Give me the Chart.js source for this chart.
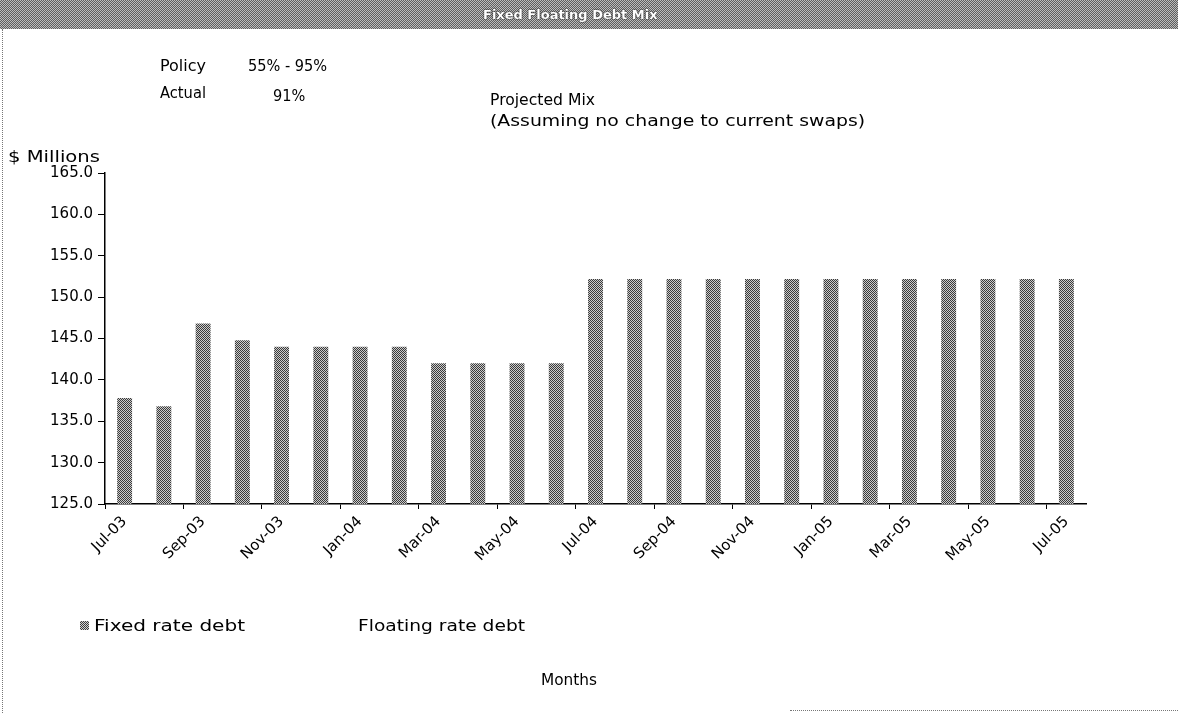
<!DOCTYPE html>
<html>
<head>
<meta charset="utf-8">
<script src="https://cdn.jsdelivr.net/npm/chart.js@4/dist/chart.umd.min.js"></script>
<style>
  html,body{margin:0;padding:0;background:#fff;}
  #wrap{position:relative;width:1178px;height:713px;overflow:hidden;font-family:"DejaVu Sans",sans-serif;color:#000;}
  canvas{position:absolute;left:0;top:0;}
  .t{position:absolute;font-size:15px;white-space:nowrap;line-height:1;transform-origin:0 50%;}
  #bar{position:absolute;left:0;top:0;width:1178px;height:29px;
       background:repeating-conic-gradient(#5e5e5e 0 25%, #bcbcbc 0 50%) 0 0/2px 2px;}
  #bar span{position:absolute;left:483px;top:7px;color:#fff;font-size:13px;font-weight:bold;
            text-shadow:0 0 2px #333,0 0 1px #000;}
  #lborder{position:absolute;left:2px;top:29px;width:1px;height:684px;border-left:1px dotted #777;}
  #bborder{position:absolute;left:790px;top:710px;width:388px;height:0;border-top:1px dotted #777;}
  #sw{position:absolute;left:80px;top:621px;width:9px;height:9px;
      background:repeating-conic-gradient(#3c3c3c 0 25%, #d0d0d0 0 50%) 0 0/2px 2px;}
</style>
</head>
<body>
<div id="wrap">
  <canvas id="c" width="1178" height="713"></canvas>
  <div id="bar"><span>Fixed Floating Debt Mix</span></div>
  <div id="lborder"></div>
  <div id="bborder"></div>
  <div class="t" data-w="46" style="left:160px;top:59px;">Policy</div>
  <div class="t" data-w="74" style="left:248px;top:59px;">55% - 95%</div>
  <div class="t" data-w="46" style="left:160px;top:86px;">Actual</div>
  <div class="t" data-w="30" style="left:273px;top:89px;">91%</div>
  <div class="t" data-w="105" style="left:490px;top:93px;">Projected Mix</div>
  <div class="t" data-w="375" style="left:490px;top:114px;">(Assuming no change to current swaps)</div>
  <div class="t" data-w="92" style="left:8px;top:150px;">$ Millions</div>
  <div id="sw"></div>
  <div class="t" data-w="151" style="left:94px;top:619px;">Fixed rate debt</div>
  <div class="t" data-w="167" style="left:358px;top:619px;">Floating rate debt</div>
  <div class="t" data-w="56" style="left:541px;top:673px;">Months</div>
</div>
<script>
// ---- data ----
const months = ["Jul-03","Aug-03","Sep-03","Oct-03","Nov-03","Dec-03","Jan-04","Feb-04","Mar-04","Apr-04","May-04","Jun-04",
                "Jul-04","Aug-04","Sep-04","Oct-04","Nov-04","Dec-04","Jan-05","Feb-05","Mar-05","Apr-05","May-05","Jun-05","Jul-05"];
const fixedRateDebt = [137.8,136.8,146.8,144.8,144.0,144.0,144.0,144.0,142.0,142.0,142.0,142.0,
                       152.2,152.2,152.2,152.2,152.2,152.2,152.2,152.2,152.2,152.2,152.2,152.2,152.2];
// Floating rate debt lies below the 125 axis floor, so no marks of it are visible
const floatingRateDebt = [];
const yMin = 125, yMax = 165, yStep = 5;

// stretch text horizontally toward the reference's wide geometric face
document.querySelectorAll('.t[data-w]').forEach(el => {
  const target = +el.dataset.w;
  const w = el.getBoundingClientRect().width;
  const k = Math.max(0.97, target / w);
  el.style.transform = 'scaleX(' + k.toFixed(3) + ')';
});

function ditherPattern(){
  const p = document.createElement('canvas'); p.width = 2; p.height = 2;
  const g = p.getContext('2d');
  g.fillStyle = '#cccccc'; g.fillRect(0,0,2,2);
  g.fillStyle = '#3a3a3a'; g.fillRect(0,0,1,1); g.fillRect(1,1,1,1);
  return g.createPattern(p,'repeat');
}
const ctx = document.getElementById('c').getContext('2d');
const pat = ditherPattern();

new Chart(ctx, {
  type: 'bar',
  data: {
    labels: months,
    datasets: [
      {label:'Fixed rate debt', data: fixedRateDebt, backgroundColor: pat, borderWidth:0,
       grouped:false, barPercentage:0.38, categoryPercentage:1.0},
      {label:'Floating rate debt', data: floatingRateDebt, backgroundColor:'#ffffff', borderWidth:0,
       grouped:false, barPercentage:0.38, categoryPercentage:1.0}
    ]
  },
  options: {
    responsive:false, animation:false,
    layout:{padding:{left:0, top:173, right:92, bottom:0}},
    plugins:{legend:{display:false}, tooltip:{enabled:false}, title:{display:false}},
    scales:{
      x:{
        afterFit:(s)=>{ s.height = 209; },
        grid:{display:true, drawOnChartArea:false, offset:true, tickLength:5, lineWidth:1,
              tickColor:(c)=> (c.index !== undefined && c.index % 2 === 0) ? '#000' : 'rgba(0,0,0,0)'},
        border:{display:true, color:'#000', width:1.5},
        ticks:{autoSkip:false, maxRotation:45, minRotation:45, color:'#000', padding:4,
               font:{family:'"DejaVu Sans", sans-serif', size:15},
               callback:function(v,i){ return i % 2 === 0 ? this.getLabelForValue(v) : ''; }}
      },
      y:{
        min:yMin, max:yMax,
        afterFit:(s)=>{ s.width = 105; },
        grid:{display:true, drawOnChartArea:false, tickLength:7, color:'#000', lineWidth:1},
        border:{display:true, color:'#000', width:1.5},
        ticks:{stepSize:yStep, color:'#000', padding:5,
               font:{family:'"DejaVu Sans", sans-serif', size:15},
               callback:(v)=> Number(v).toFixed(1)}
      }
    }
  }
});
</script>
</body>
</html>
